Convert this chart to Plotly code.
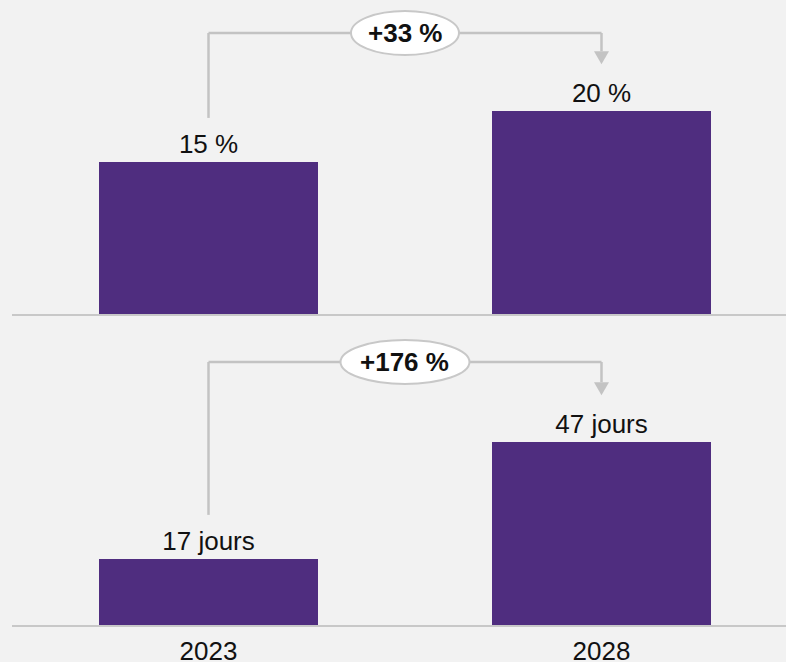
import plotly.graph_objects as go

# Data
years = ["2023", "2028"]
share_pct = [15, 20]      # part en %
days = [17, 47]           # nombre de jours

# Styles
BAR = "#4f2d7f"
BG = "#f2f2f2"
GREY = "#c3c3c3"
AXIS = "#c8c8c8"
FONT = "Liberation Sans, Arial, Helvetica, sans-serif"
FS = 26

W, H = 786, 662
ML, MR, MT, MB = 12, 0, 0, 37
PLOT_H = H - MT - MB
XRANGE = [-0.5, 1.4695]
BAR_W = 0.556

panels = [
    dict(values=share_pct, fmt="%{y} %", xa="x", ya="y",
         domain=[(PLOT_H - 314) / PLOT_H, 1.0], ymax=30.97),
    dict(values=days, fmt="%{y} jours", xa="x2", ya="y2",
         domain=[0.0, (PLOT_H - 329) / PLOT_H], ymax=76.1),
]

fig = go.Figure()
shapes = []
annotations = []

for p in panels:
    vals = p["values"]
    fig.add_trace(go.Bar(
        x=years, y=vals, xaxis=p["xa"], yaxis=p["ya"],
        marker=dict(color=BAR, line=dict(width=0)), width=BAR_W,
        texttemplate=p["fmt"], textposition="outside",
        textfont=dict(family=FONT, size=FS, color="#111111"),
        cliponaxis=False, hoverinfo="skip",
    ))

    # pixels per data unit in this panel
    k = PLOT_H * (p["domain"][1] - p["domain"][0]) / p["ymax"]
    bracket = p["ymax"] - 33 / k
    left_bottom = vals[0] + 44 / k
    tip = vals[1] + 47 / k
    head = 13 / k
    xr, yr = p["xa"], p["ya"]
    line = dict(color=GREY, width=2.5)

    shapes += [
        dict(type="line", xref=xr, yref=yr, x0=0, x1=0, y0=left_bottom, y1=bracket, line=line, layer="above"),
        dict(type="line", xref=xr, yref=yr, x0=0, x1=1, y0=bracket, y1=bracket, line=line, layer="above"),
        dict(type="line", xref=xr, yref=yr, x0=1, x1=1, y0=bracket, y1=tip + head, line=line, layer="above"),
        dict(type="path", xref=xr, yref=yr, xsizemode="pixel", xanchor=1,
             ysizemode="pixel", yanchor=tip, path="M -7.5,13 L 7.5,13 L 0,0 Z",
             fillcolor=GREY, line=dict(width=0), layer="above"),
    ]

    change = round((vals[1] / vals[0] - 1) * 100)
    label = f"+{change} %"
    ew = 21 * len(label) + 3
    shapes.append(dict(type="circle", xref=xr, yref=yr, xsizemode="pixel", xanchor=0.5,
                       x0=-ew / 2, x1=ew / 2, ysizemode="pixel", yanchor=bracket,
                       y0=-22, y1=22, fillcolor="white",
                       line=dict(color=AXIS, width=2), layer="above"))
    annotations.append(dict(xref=xr, yref=yr, x=0.5, y=bracket, text=f"<b>{label}</b>",
                            showarrow=False, font=dict(family=FONT, size=FS, color="#111111"),
                            xanchor="center", yanchor="middle"))

axis_common = dict(range=XRANGE, showline=True, linecolor=AXIS, linewidth=2,
                   showgrid=False, zeroline=False, ticks="", fixedrange=True,
                   automargin=False)

fig.update_layout(
    width=W, height=H,
    margin=dict(l=ML, r=MR, t=MT, b=MB, autoexpand=False),
    paper_bgcolor=BG, plot_bgcolor=BG,
    showlegend=False, bargap=0,
    font=dict(family=FONT, size=FS, color="#111111"),
    xaxis=dict(anchor="y", showticklabels=False, **axis_common),
    xaxis2=dict(anchor="y2", showticklabels=True, ticklabelstandoff=2,
                tickfont=dict(family=FONT, size=FS, color="#111111"), **axis_common),
    yaxis=dict(domain=panels[0]["domain"], range=[0, panels[0]["ymax"]], visible=False, fixedrange=True),
    yaxis2=dict(domain=panels[1]["domain"], range=[0, panels[1]["ymax"]], visible=False, fixedrange=True),
    shapes=shapes,
    annotations=annotations,
)

fig.write_html("out.html")
